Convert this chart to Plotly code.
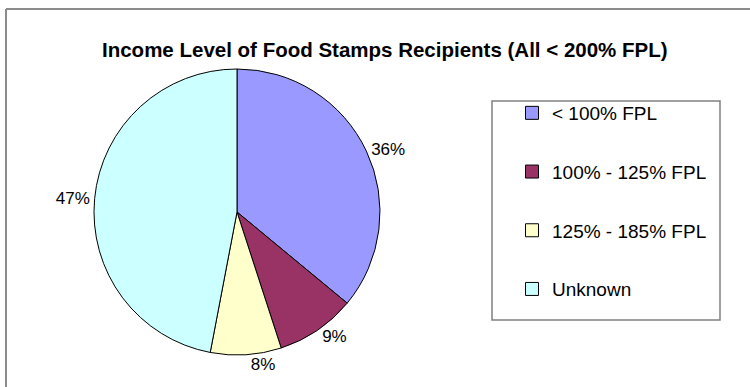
import plotly.graph_objects as go

labels = ["< 100% FPL", "100% - 125% FPL", "125% - 185% FPL", "Unknown"]
values = [36, 9, 8, 47]
colors = ["#9999FF", "#993366", "#FFFFCC", "#CCFFFF"]
title = "Income Level of Food Stamps Recipients (All < 200% FPL)"

W, H = 750, 387
FONT = "Arial, Liberation Sans, sans-serif"

fig = go.Figure()
fig.add_trace(go.Pie(
    labels=labels, values=values, sort=False, direction="clockwise", rotation=0,
    marker=dict(colors=colors, line=dict(color="black", width=1)),
    textposition="outside", texttemplate="%{percent:.0%}",
    textfont=dict(family=FONT, size=17, color="black"),
    showlegend=False, hoverinfo="label+percent",
    domain=dict(x=[(237 - 143) / W, (237 + 143) / W], y=[(H - 212 - 143) / H, (H - 212 + 143) / H]),
))

for lab, col in zip(labels, colors):
    fig.add_trace(go.Scatter(
        x=[None], y=[None], mode="markers", name=lab, legendgroup=lab,
        marker=dict(symbol="square", size=13, color=col, line=dict(color="black", width=1)),
        showlegend=True, hoverinfo="skip",
    ))

fig.update_layout(
    width=W, height=H, margin=dict(l=0, r=0, t=0, b=0),
    paper_bgcolor="white", plot_bgcolor="white",
    xaxis=dict(visible=False), yaxis=dict(visible=False),
    legend=dict(x=512 / W, y=1 - 94 / H, xanchor="left", yanchor="top",
                font=dict(family=FONT, size=19, color="black"),
                tracegroupgap=31, bgcolor="rgba(0,0,0,0)", borderwidth=0),
    annotations=[dict(text="<b>" + title + "</b>", x=385 / W, y=1 - 36 / H,
                      xref="paper", yref="paper", showarrow=False,
                      font=dict(family=FONT, size=20.5, color="black"))],
    shapes=[
        dict(type="line", xref="paper", yref="paper", x0=6 / W, x1=1, y0=1 - 9 / H, y1=1 - 9 / H,
             line=dict(color="#8c8c8c", width=2)),
        dict(type="line", xref="paper", yref="paper", x0=6 / W, x1=6 / W, y0=0, y1=1 - 9 / H,
             line=dict(color="#8c8c8c", width=2)),
        dict(type="rect", xref="paper", yref="paper", x0=492 / W, x1=720 / W, y0=1 - 320 / H, y1=1 - 101 / H,
             line=dict(color="#808080", width=1.5)),
    ],
)

fig.write_html("out.html")
